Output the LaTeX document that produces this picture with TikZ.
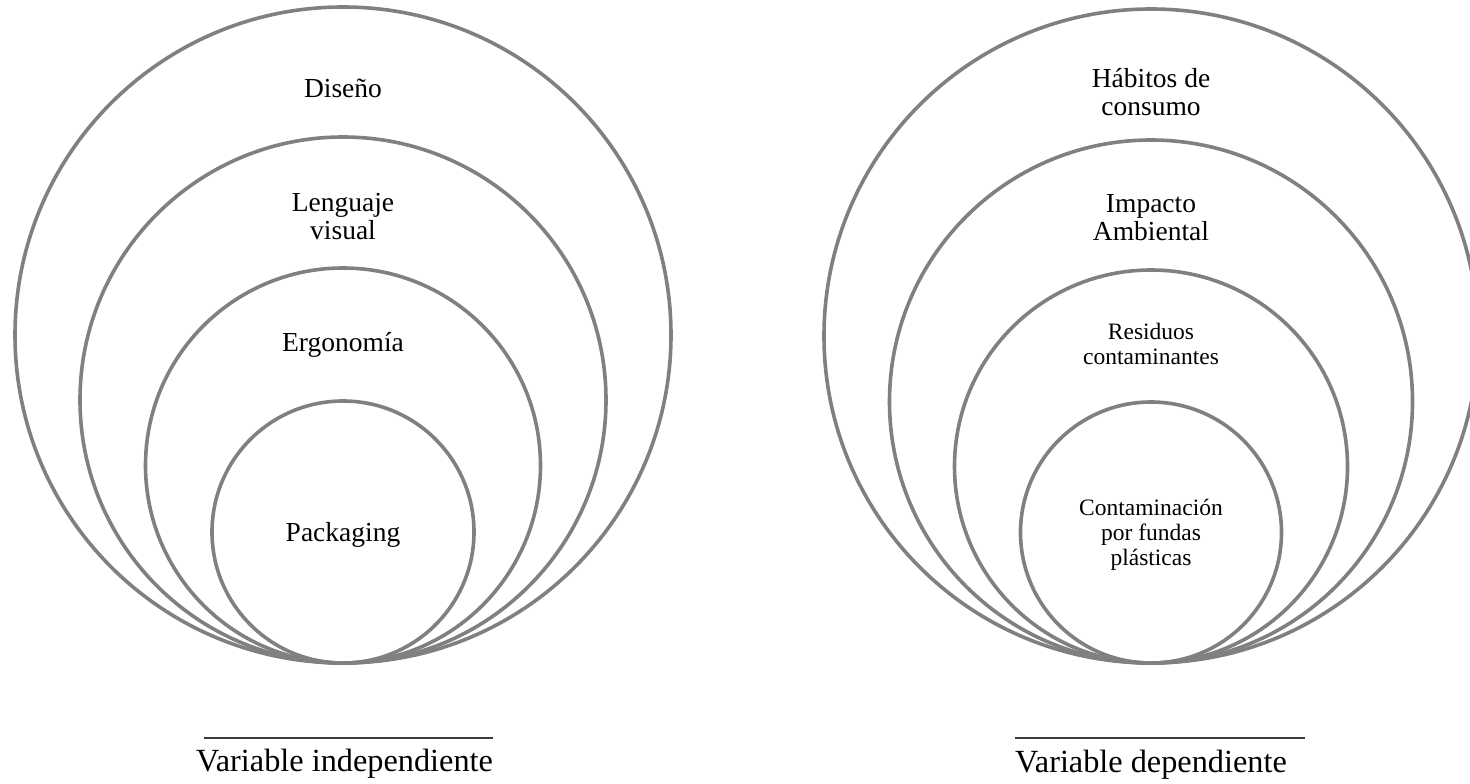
\documentclass[tikz,border=0pt]{standalone}
\usepackage{fontspec}
\setmainfont{Liberation Serif}
\definecolor{ringgray}{RGB}{128,128,128}
\definecolor{rulegray}{RGB}{60,60,60}
\begin{document}
\begin{tikzpicture}[x=1pt,y=-1pt,
  ring/.style={draw=ringgray, line width=3.6pt},
  % multi-line labels sit on the baseline of their last line
  lbl/.style={inner sep=0pt, anchor=base, align=center,
              font=\fontsize{27.5}{28}\selectfont},
  small/.style={lbl, font=\fontsize{23.5}{24.8}\selectfont},
  caption/.style={inner sep=0pt, anchor=base, font=\fontsize{32.3}{34}\selectfont},
  rulebar/.style={draw=rulegray, line width=1.4pt}]
  \useasboundingbox (0,0) rectangle (1470,784);
  \clip (0,0) rectangle (1470,784);

  % left family of rings, all touching at the bottom point (343,663)
  \foreach \r in {328,263,197.5,131}
    \draw[ring] (343,663-\r) circle[radius=\r pt];

  % right family of rings, touching at (1151,663)
  \foreach \r in {327,261.5,196.5,130.5}
    \draw[ring] (1151,663-\r) circle[radius=\r pt];

  % labels of the independent variable
  \node[lbl] (dis) at (343,97) {Diseño};
  \node[lbl] (len) at (343,239.3) {Lenguaje\\visual};
  \node[lbl] (erg) at (343,351.7) {Ergonomía};
  \node[lbl] (pac) at (343,541.7) {Packaging};

  % labels of the dependent variable
  \node[lbl] (hab) at (1151,115) {Hábitos de\\consumo};
  \node[lbl] (imp) at (1151,240.7) {Impacto\\Ambiental};
  \node[small] (res) at (1151,364.3) {Residuos\\contaminantes};
  \node[small] (con) at (1151,565) {Contaminación\\por fundas\\plásticas};

  % captions with their rules
  \coordinate (la) at (204,738);
  \coordinate (lb) at (493,738);
  \coordinate (ra) at (1015,738);
  \coordinate (rb) at (1305,738);
  \draw[rulebar] (la) -- (lb);
  \draw[rulebar] (ra) -- (rb);
  \node[caption] (vin) at (344.5,771.7) {Variable independiente};
  \node[caption] (vde) at (1151,772) {Variable dependiente};
\end{tikzpicture}
\end{document}
